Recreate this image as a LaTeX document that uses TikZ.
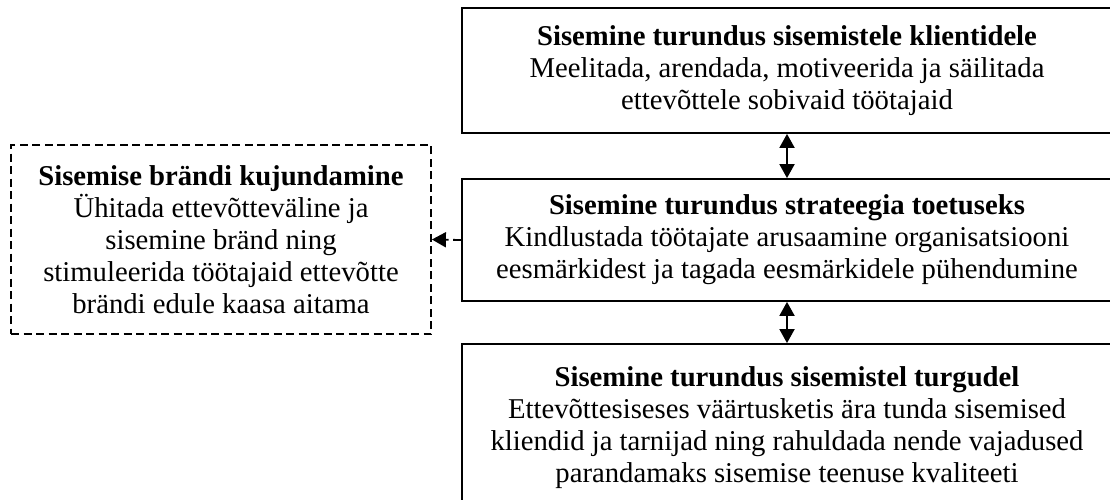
\documentclass[tikz,border=0pt]{standalone}
\usepackage{fontspec}
\setmainfont{Liberation Serif}
\usetikzlibrary{arrows.meta}
\begin{document}
\begin{tikzpicture}[x=1pt,y=-1pt,
  every node/.style={font=\fontsize{28.7}{32}\selectfont, align=center, inner sep=0pt},
  solidbox/.style={draw, line width=1.8pt, minimum width=650pt},
  dashbox/.style={draw, line width=1.8pt, dash pattern=on 8pt off 4.5pt, minimum width=420pt, minimum height=189pt},
  link/.style={line width=1.8pt, {Triangle[width=15pt,length=14pt]}-{Triangle[width=15pt,length=14pt]}},
  dlink/.style={line width=1.8pt, dash pattern=on 8pt off 4.5pt, -{Triangle[width=15pt,length=14pt]}}
]
\useasboundingbox (0,0) rectangle (1110,500);
\clip (0,0) rectangle (1110,500);

% three stacked boxes on the right (right and bottom edges run off the page)
\node[solidbox, minimum height=125pt] (top) at (787,70.5)
  {\textbf{Sisemine turundus sisemistele klientidele}\\
   Meelitada, arendada, motiveerida ja säilitada\\
   ettevõttele sobivaid töötajaid};

\node[solidbox, minimum height=122pt] (mid) at (787,240)
  {\textbf{Sisemine turundus strateegia toetuseks}\\
   Kindlustada töötajate arusaamine organisatsiooni\\
   eesmärkidest ja tagada eesmärkidele pühendumine};

\node[solidbox, minimum height=168pt] (bot) at (787,428)
  {\textbf{Sisemine turundus sisemistel turgudel}\\
   Ettevõttesiseses väärtusketis ära tunda sisemised\\
   kliendid ja tarnijad ning rahuldada nende vajadused\\
   parandamaks sisemise teenuse kvaliteeti};

% dashed box on the left
\node[dashbox] (brand) at (221,239.5)
  {\textbf{Sisemise brändi kujundamine}\\
   Ühitada ettevõtteväline ja\\
   sisemine bränd ning\\
   stimuleerida töötajaid ettevõtte\\
   brändi edule kaasa aitama};

\draw[link] (top.south) -- (mid.north);
\draw[link] (mid.south) -- (bot.north);
\draw[dlink] (mid.west) -- (brand.east);
\end{tikzpicture}
\end{document}
